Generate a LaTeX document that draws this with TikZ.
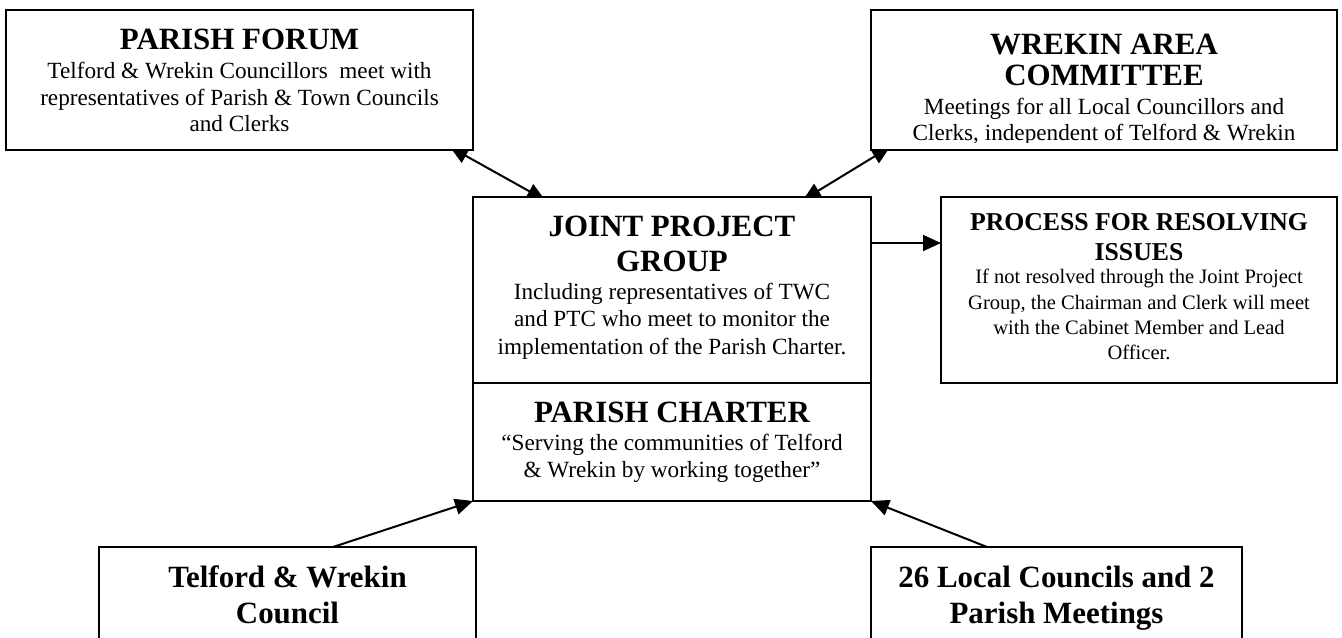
\documentclass[tikz,border=0pt]{standalone}
\usepackage{fontspec}
\setmainfont{Liberation Serif}
\usetikzlibrary{arrows.meta,calc,backgrounds}
\begin{document}
\begin{tikzpicture}[x=0.75pt,y=-0.75pt,
  box/.style={draw, line width=1.5pt, fill=white, rectangle, inner sep=0pt, outer sep=0pt},
  ln/.style={anchor=base, inner sep=0pt, outer sep=0pt},
  hd/.style={ln, font=\fontsize{23.2}{26}\selectfont\bfseries},
  bd/.style={ln, font=\fontsize{17.4}{20}\selectfont},
  hds/.style={ln, font=\fontsize{19.3}{22}\selectfont\bfseries},
  bds/.style={ln, font=\fontsize{15.4}{18}\selectfont},
  con/.style={line width=1.5pt, -{Triangle[length=13.5pt,width=12pt]}},
  con2/.style={line width=1.5pt, {Triangle[length=13.5pt,width=12pt]}-{Triangle[length=13.5pt,width=12pt]}}
]
\useasboundingbox (0,0) rectangle (1342,637);
\clip (0,0) rectangle (1342,637);

% boxes
\node[box, minimum width=350.25pt, minimum height=105pt] (pf) at (239.5,80) {};
\node[box, minimum width=349.5pt, minimum height=105pt] (wac) at (1104,80) {};
\node[box, minimum width=298.5pt, minimum height=139.5pt] (jpg) at (672,290) {};
\node[box, minimum width=298.5pt, minimum height=88.5pt] (pc) at (672,442) {};
\node[box, minimum width=297pt, minimum height=139.5pt] (pri) at (1139,290) {};
\node[box, minimum width=282.75pt, minimum height=99.75pt] (twc) at (287.5,613.5) {};
\node[box, minimum width=278.25pt, minimum height=99.75pt] (lc) at (1056.5,613.5) {};

% connectors (behind the boxes)
\begin{pgfonlayer}{background}
\draw[con2] ($(pf.south east)+(-23,-3)$) -- ($(jpg.north west)+(72,3)$);
\draw[con2] ($(wac.south west)+(19,-3)$) -- ($(jpg.north east)+(-68,3)$);
\end{pgfonlayer}
\draw[con] ($(jpg.north east)+(0,46)$) -- ($(pri.north west)+(0,46)$);
\draw[con] ($(twc.north west)+(234,0)$) -- (pc.south west);
\draw[con] ($(lc.north west)+(116,0)$) -- (pc.south east);

% Parish Forum
\node[hd] (pf-t) at (239.5,49.3) {PARISH FORUM};
\node[bd] (pf-1) at (239.5,78.3) {Telford \& Wrekin Councillors \ meet with};
\node[bd] (pf-2) at (239.5,105.5) {representatives of Parish \& Town Councils};
\node[bd] (pf-3) at (239.5,131.7) {and Clerks};

% Wrekin Area Committee
\node[hd] (wac-t1) at (1104,54.5) {WREKIN AREA};
\node[hd] (wac-t2) at (1104,85) {COMMITTEE};
\begin{scope}
\clip (871,10) rectangle (1337,142.7);
\node[bd] (wac-1) at (1104,114.3) {Meetings for all Local Councillors and};
\node[bd] (wac-2) at (1104,140.3) {Clerks, independent of Telford \& Wrekin};
\end{scope}

% Joint Project Group
\node[hd] (jpg-t1) at (672,236.7) {JOINT PROJECT};
\node[hd] (jpg-t2) at (672,271.7) {GROUP};
\node[bd] (jpg-1) at (672,299.3) {Including representatives of TWC};
\node[bd] (jpg-2) at (672,326.7) {and PTC who meet to monitor the};
\node[bd] (jpg-3) at (672,354.3) {implementation of the Parish Charter.};

% Parish Charter
\node[hd] (pc-t) at (672,422) {PARISH CHARTER};
\node[bd] (pc-1) at (672,450) {“Serving the communities of Telford};
\node[bd] (pc-2) at (672,477.7) {\& Wrekin by working together”};

% Process for resolving issues
\node[hds] (pri-t1) at (1139,230) {PROCESS FOR RESOLVING};
\node[hds] (pri-t2) at (1139,260) {ISSUES};
\node[bds] (pri-1) at (1139,283.3) {If not resolved through the Joint Project};
\node[bds] (pri-2) at (1139,309.3) {Group, the Chairman and Clerk will meet};
\node[bds] (pri-3) at (1139,334.5) {with the Cabinet Member and Lead};
\node[bds] (pri-4) at (1139,359.5) {Officer.};

% Bottom boxes
\node[hd] (twc-1) at (287.5,587.3) {Telford \& Wrekin};
\node[hd] (twc-2) at (287.5,623.3) {Council};
\node[hd] (lc-1) at (1056.5,587.3) {26 Local Councils and 2};
\node[hd] (lc-2) at (1056.5,623.3) {Parish Meetings};
\end{tikzpicture}
\end{document}
